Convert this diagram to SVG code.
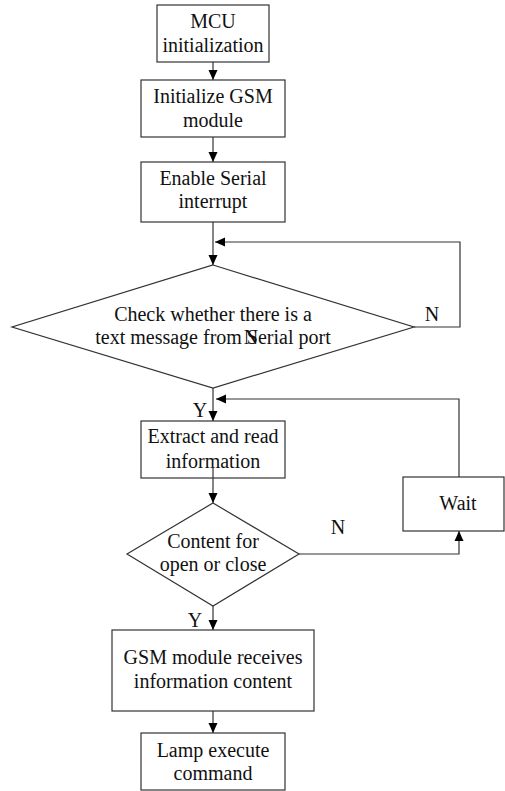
<svg xmlns="http://www.w3.org/2000/svg" width="505" height="791" viewBox="0 0 505 791">
<defs>
<marker id="ah" markerUnits="userSpaceOnUse" markerWidth="10" markerHeight="10" viewBox="0 0 10 10" refX="10" refY="5" orient="auto">
<path d="M0,0.5 L10,5 L0,9.5 Z" fill="#000"/>
</marker>
<style>
.n{fill:#fff;stroke:#333;stroke-width:1.2}
.c{fill:none;stroke:#333;stroke-width:1.2;marker-end:url(#ah)}
text{font-family:"Liberation Serif","Times New Roman",serif;font-size:20px;fill:#111}
.m{text-anchor:middle}
</style>
</defs>
<rect width="505" height="791" fill="#fff"/>
<g id="connectors">
<path class="c" d="M213,62 V80"/>
<path class="c" d="M213,137 V162"/>
<path class="c" d="M213,222 V265"/>
<path class="c" d="M414,327 H460 V242 H215"/>
<path class="c" d="M213,388 V421"/>
<path class="c" d="M459,477 V399 H216"/>
<path class="c" d="M213,467 V503"/>
<path class="c" d="M299,554 H459 V531"/>
<path class="c" d="M213,606 V630"/>
<path class="c" d="M213,711 V733"/>
</g>
<g id="n1"><rect class="n" x="157" y="5" width="112" height="57"/>
<text class="m" x="213" y="28">MCU</text><text class="m" x="213" y="52">initialization</text></g>
<g id="n2"><rect class="n" x="141" y="80" width="144" height="57"/>
<text class="m" x="213" y="103">Initialize GSM</text><text class="m" x="213" y="127">module</text></g>
<g id="n3"><rect class="n" x="141" y="162" width="144" height="60"/>
<text class="m" x="213" y="185">Enable Serial</text><text class="m" x="213" y="208">interrupt</text></g>
<g id="n4"><polygon class="n" points="213,265 414,327 213,388 12,327"/>
<text class="m" x="213" y="321">Check whether there is a</text><text class="m" x="213" y="344">text message from Serial port</text>
<text class="m" x="251" y="344">N</text></g>
<g id="n5"><rect class="n" x="141" y="421" width="144" height="57"/>
<text class="m" x="213" y="443">Extract and read</text><text class="m" x="213" y="468">information</text></g>
<g id="n6"><polygon class="n" points="213,503 299,554 213,606 127,554"/>
<text class="m" x="213" y="548">Content for</text><text class="m" x="213" y="571">open or close</text></g>
<g id="n7"><rect class="n" x="403" y="477" width="101" height="54"/>
<text class="m" x="458" y="510">Wait</text></g>
<g id="n8"><rect class="n" x="112" y="630" width="202" height="81"/>
<text class="m" x="213" y="664">GSM module receives</text><text class="m" x="213" y="688">information content</text></g>
<g id="n9"><rect class="n" x="141" y="733" width="144" height="57"/>
<text class="m" x="213" y="757">Lamp execute</text><text class="m" x="213" y="780">command</text></g>
<g id="labels">
<text class="m" x="432" y="321">N</text>
<text class="m" x="200" y="417">Y</text>
<text class="m" x="338" y="534">N</text>
<text class="m" x="195" y="627">Y</text>
</g>
<path d="M213,467 V478" stroke="#333" stroke-width="1.2"/>
</svg>
